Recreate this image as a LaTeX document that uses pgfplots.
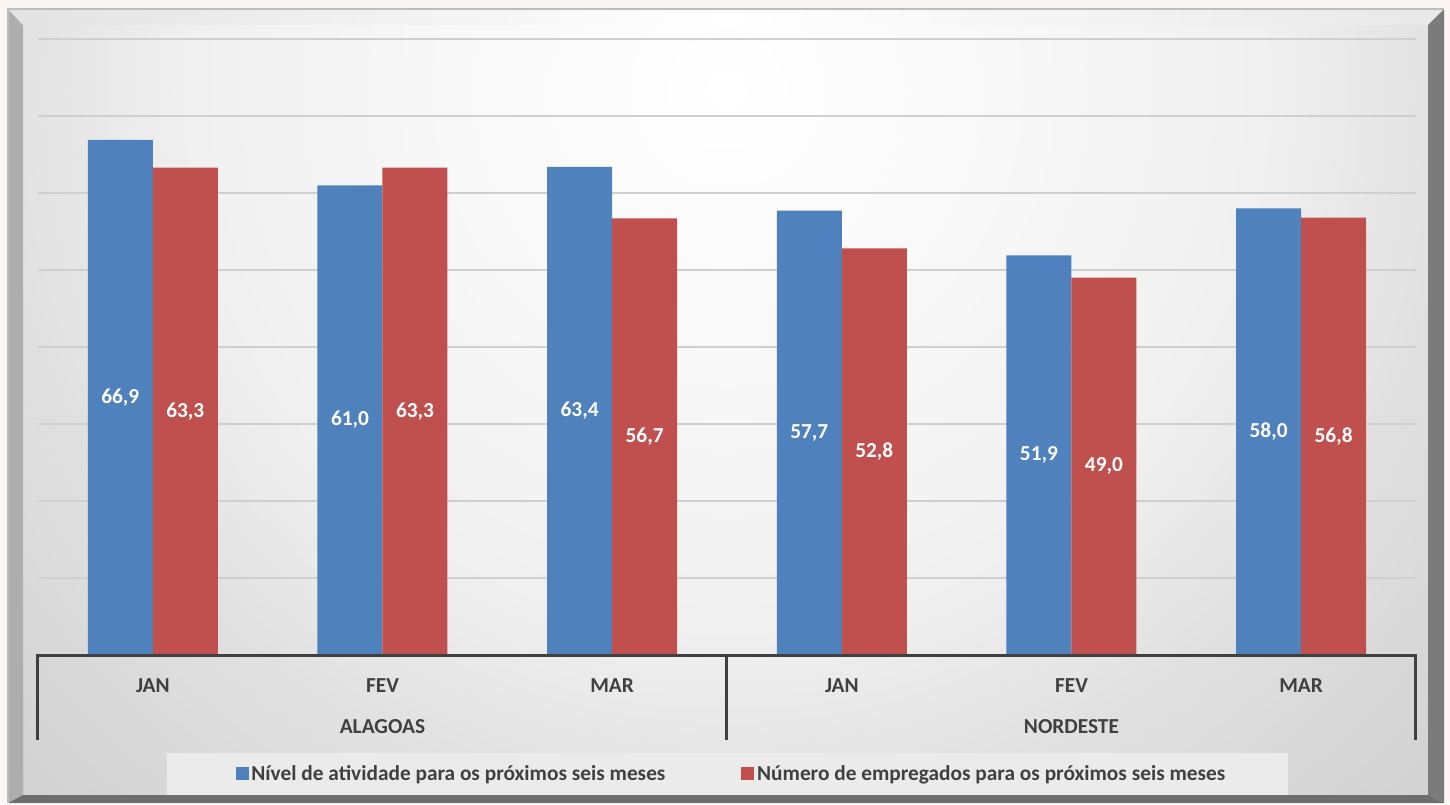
\documentclass[border=0pt]{standalone}
\usepackage{fontspec}
\setmainfont{Carlito}
\usepackage{pgfplots}
\usepackage{pgfplotstable}
\pgfplotsset{compat=1.18}

\definecolor{azul}{HTML}{4F81BD}
\definecolor{verm}{HTML}{C0504D}
\definecolor{texto}{HTML}{404040}
\definecolor{grade}{HTML}{CFCFCF}
\definecolor{fundo}{HTML}{FBF5F3}
\definecolor{chanfroE}{HTML}{ADADAD}
\definecolor{chanfroD}{HTML}{7B7B7B}
\definecolor{chanfroB}{HTML}{6E6E6E}
\definecolor{contorno}{HTML}{BDBDBD}
\definecolor{caixaLeg}{HTML}{EBEBEB}

% face do grafico: claro no alto, ao centro, escurecendo para as bordas
\pgfdeclareradialshading{face}{\pgfpoint{0bp}{0bp}}{%
  color(0bp)=(white);
  color(225bp)=(white!97!black);
  color(405bp)=(white!94!black);
  color(548bp)=(white!88!black);
  color(750bp)=(white!82!black)}

% Expectativas: nivel de atividade e numero de empregados (proximos seis meses)
\pgfplotstableread{
x nivel empreg
0 66.9 63.3
1 61.0 63.3
2 63.4 56.7
3 57.7 52.8
4 51.9 49.0
5 58.0 56.8
}\dados

\newcommand{\rotfont}{\bfseries\fontsize{16}{19}\selectfont}

\begin{document}
\begin{tikzpicture}
% moldura chanfrada e fundo (unidades de 0.75pt)
\begin{scope}[x=0.75pt,y=0.75pt]
  \fill[fundo] (0,0) rectangle (1450,803);
  \begin{scope}
    \clip (23,8) rectangle (1428,778);
    \node[inner sep=0pt, outer sep=0pt] at (727,713) {\pgfuseshading{face}};
  \end{scope}
  \fill[chanfroE] (8,0) -- (23,8) -- (23,778) -- (8,794) -- cycle;
  \shade[left color=white!89!black, right color=white!91!black, middle color=white]
    (8,794) -- (1444,794) -- (1428,778) -- (23,778) -- cycle;
  \fill[chanfroD] (1444,794) -- (1444,0) -- (1428,8) -- (1428,778) -- cycle;
  \fill[chanfroB] (8,0) -- (1444,0) -- (1428,8) -- (23,8) -- cycle;
  \draw[contorno, line width=1.5pt] (8,0) -- (8,794) -- (1444,794);
  \fill[caixaLeg] (167,8) rectangle (1288,50);
\end{scope}

\begin{axis}[
  at={(28.5pt,111pt)}, anchor=south west,
  scale only axis, width=1033.5pt, height=462pt,
  xmin=-0.5, xmax=5.5, ymin=0, ymax=80,
  axis line style={draw=none},
  clip=false,
  major tick length=0pt,
  ytick={10,20,...,80}, yticklabels={},
  ymajorgrids, grid style={grade, line width=0.8pt},
  xtick={0,...,5},
  xticklabels={JAN,FEV,MAR,JAN,FEV,MAR},
  xticklabel style={anchor=base, yshift=-27.75pt, font=\rotfont, text=texto},
  legend style={at={(0.5036,-0.193)}, anchor=center, draw=none, fill=none,
    font=\rotfont, text=texto, legend columns=2,
    /tikz/every even column/.append style={column sep=55pt}},
  /pgf/number format/.cd, fixed, fixed zerofill, precision=1, use comma, assume math mode=true,
]
\addplot[ybar, bar width=48.75pt, bar shift=-24.375pt, fill=azul, draw=none,
  legend image code/.code={\fill[azul] (0pt,-4.5pt) rectangle (9.75pt,5.25pt);}]
  table[x=x, y=nivel] {\dados};
\addlegendentry{Nível de atividade para os próximos seis meses}
\addplot[ybar, bar width=48.75pt, bar shift=24.375pt, fill=verm, draw=none,
  legend image code/.code={\fill[verm] (0pt,-4.5pt) rectangle (9.75pt,5.25pt);}]
  table[x=x, y=empreg] {\dados};
\addlegendentry{Número de empregados para os próximos seis meses}

% rotulos de valor no meio das barras
\addplot[draw=none, forget plot, nodes near coords, point meta=explicit,
  every node near coord/.append style={anchor=center, xshift=-24.375pt, text=white, font=\rotfont}]
  table[x=x, y expr=\thisrow{nivel}/2, meta=nivel] {\dados};
\addplot[draw=none, forget plot, nodes near coords, point meta=explicit,
  every node near coord/.append style={anchor=center, xshift=24.375pt, text=white, font=\rotfont}]
  table[x=x, y expr=\thisrow{empreg}/2, meta=empreg] {\dados};

% eixo de categorias em dois niveis
\draw[texto, line width=2.25pt, line join=miter]
  (axis cs:-0.5,-11.05) -- (axis cs:-0.5,0) -- (axis cs:5.5,0) -- (axis cs:5.5,-11.05);
\draw[texto, line width=2.25pt] (axis cs:2.5,0) -- (axis cs:2.5,-11.05);
\node[anchor=base, font=\rotfont, text=texto] at (axis cs:1,-10.13) {ALAGOAS};
\node[anchor=base, font=\rotfont, text=texto] at (axis cs:4,-10.13) {NORDESTE};
\end{axis}
\end{tikzpicture}
\end{document}
